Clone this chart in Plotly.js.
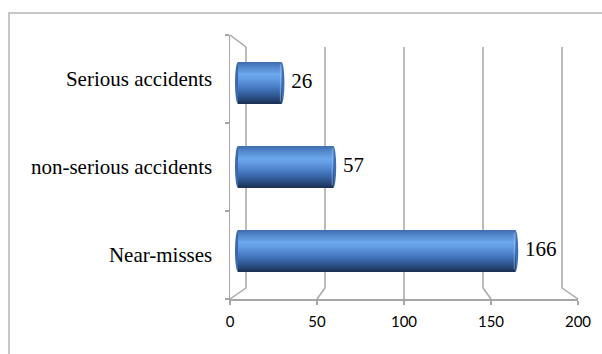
<!DOCTYPE html>
<html>
<head>
<meta charset="utf-8">
<script src="https://cdn.plot.ly/plotly-3.0.1.min.js"></script>
<style>
  html, body { margin: 0; padding: 0; background: #ffffff; }
  #chart { width: 602px; height: 354px; }
</style>
</head>
<body>
<div id="chart"></div>
<script>
// Incident counts, listed bottom to top
const categories = ['Near-misses', 'non-serious accidents', 'Serious accidents'];
const counts = [166, 57, 26];
const xTicks = [0, 50, 100, 150, 200];

const W = 602, H = 354;
const X_MIN = 0, X_MAX = 200;

// Pixel boxes of the three depth planes of the pseudo-3D plot
const FRONT = { left: 230, right: 578, top: 35, bottom: 299 };
const BACK  = { left: 246, right: 562, top: 47, bottom: 288 };
const MID   = { left: 238, right: 572, top: 41, bottom: 293 };
// Small extra room left of zero so the rounded bar ends are not clipped
const PAD = 3;
const midScale = (MID.right - MID.left) / (X_MAX - X_MIN);

const fx = p => p / W;
const fy = p => 1 - p / H;
const project = (plane, t) => plane.left + (t - X_MIN) / (X_MAX - X_MIN) * (plane.right - plane.left);

const wallColor = '#a6a6a6';

// Cylinder shading stops, top (0) to bottom (1)
const stops = [
  [0.00, [61, 108, 171]],
  [0.10, [78, 130, 198]],
  [0.30, [108, 168, 237]],
  [0.42, [96, 154, 225]],
  [0.60, [72, 124, 196]],
  [0.80, [48, 88, 146]],
  [1.00, [26, 48, 80]]
];
function shadeAt(f) {
  for (let i = 1; i < stops.length; i++) {
    if (f <= stops[i][0]) {
      const [a, ca] = stops[i - 1], [b, cb] = stops[i];
      const u = (f - a) / (b - a);
      const c = ca.map((v, j) => Math.round(v + (cb[j] - v) * u));
      return 'rgb(' + c.join(',') + ')';
    }
  }
  return 'rgb(' + stops[stops.length - 1][1].join(',') + ')';
}

const BAR_W = 0.5;
const n = 30;
const stripH = BAR_W / n;

const traces = [];
// Each strip runs from its own lower edge to the top of the bar; later strips cover the upper part
for (let k = 0; k < n; k++) {
  traces.push({
    type: 'bar', orientation: 'h',
    x: counts, y: categories,
    xaxis: 'x', yaxis: 'y',
    offset: -BAR_W / 2 + k * stripH,
    width: BAR_W - k * stripH,
    marker: { color: shadeAt(1 - (k + 0.5) / n), line: { width: 0 } },
    hoverinfo: 'skip', showlegend: false
  });
}

// Value labels at the bar ends
traces.push({
  type: 'scatter', mode: 'markers+text',
  x: counts, y: categories,
  xaxis: 'x', yaxis: 'y',
  text: counts.map(String),
  textposition: 'middle right',
  marker: { size: 14, opacity: 0 },
  textfont: { family: 'Liberation Serif, Times New Roman, serif', size: 21, color: '#000000' },
  cliponaxis: false, hoverinfo: 'skip', showlegend: false
});

// Invisible anchor so the front axes carry their category labels
traces.push({
  type: 'scatter', mode: 'markers',
  x: categories.map(() => X_MIN), y: categories,
  xaxis: 'x2', yaxis: 'y2',
  marker: { opacity: 0 }, hoverinfo: 'skip', showlegend: false
});

const shapes = [];
// Outer frame of the chart area
shapes.push({ type: 'rect', xref: 'paper', yref: 'paper', layer: 'below',
  x0: fx(9), x1: 1.05, y0: -0.05, y1: fy(13),
  line: { color: '#b4b4b4', width: 1.5 }, fillcolor: 'rgba(0,0,0,0)' });

// Back-wall gridlines and the floor edges running to the front axis
xTicks.forEach(t => {
  const xb = project(BACK, t), xf = project(FRONT, t);
  shapes.push({ type: 'line', xref: 'paper', yref: 'paper', layer: 'below',
    x0: fx(xb), x1: fx(xb), y0: fy(BACK.top), y1: fy(BACK.bottom),
    line: { color: wallColor, width: 1.5 } });
  shapes.push({ type: 'line', xref: 'paper', yref: 'paper', layer: 'below',
    x0: fx(xb), x1: fx(xf), y0: fy(BACK.bottom), y1: fy(FRONT.bottom),
    line: { color: wallColor, width: 1.5 } });
});
// Top edge of the side wall
shapes.push({ type: 'line', xref: 'paper', yref: 'paper', layer: 'below',
  x0: fx(FRONT.left), x1: fx(BACK.left), y0: fy(FRONT.top), y1: fy(BACK.top),
  line: { color: wallColor, width: 1.5 } });

// Rounded cylinder ends
const capHalf = 1.8;
categories.forEach((c, i) => {
  shapes.push({ type: 'circle', xref: 'x', yref: 'y', layer: 'below',
    x0: X_MIN - capHalf, x1: X_MIN + capHalf, y0: i - BAR_W / 2, y1: i + BAR_W / 2,
    fillcolor: '#3a6aaa', line: { width: 0 } });
  shapes.push({ type: 'circle', xref: 'x', yref: 'y', layer: 'below',
    x0: counts[i] - capHalf, x1: counts[i] + capHalf, y0: i - BAR_W / 2, y1: i + BAR_W / 2,
    fillcolor: '#3e6fb0', line: { width: 0 } });
  // faint rim where the end face meets the body
  shapes.push({ type: 'line', xref: 'x', yref: 'y', layer: 'above',
    x0: counts[i] - 0.6, x1: counts[i] - 0.6, y0: i - BAR_W / 2 + 0.03, y1: i + BAR_W / 2 - 0.03,
    line: { color: 'rgba(170,200,240,0.55)', width: 1 } });
});

const layout = {
  width: W, height: H,
  margin: { l: 0, r: 0, t: 0, b: 0, pad: 0 },
  paper_bgcolor: '#ffffff', plot_bgcolor: 'rgba(0,0,0,0)',
  barmode: 'overlay',
  showlegend: false,
  xaxis: { domain: [fx(MID.left - PAD * midScale), fx(MID.right)], range: [X_MIN - PAD, X_MAX], anchor: 'y',
           visible: false, fixedrange: true },
  yaxis: { domain: [fy(MID.bottom), fy(MID.top)], type: 'category', categoryorder: 'array',
           categoryarray: categories, range: [-0.5, 2.5], anchor: 'x', visible: false, fixedrange: true },
  xaxis2: { domain: [fx(FRONT.left), fx(FRONT.right)], range: [X_MIN, X_MAX], anchor: 'y2',
            tickmode: 'array', tickvals: xTicks, ticktext: xTicks.map(String),
            showline: true, linecolor: wallColor, linewidth: 1.5,
            ticks: 'outside', ticklen: 4, tickcolor: wallColor, tickwidth: 1.5,
            showgrid: false, zeroline: false, ticklabelstandoff: 4,
            tickfont: { family: 'Lato, Open Sans, sans-serif', size: 15, color: '#000000' } },
  yaxis2: { domain: [fy(FRONT.bottom), fy(FRONT.top)], type: 'category', categoryorder: 'array',
            categoryarray: categories, range: [-0.5, 2.5], anchor: 'x2',
            tickson: 'boundaries', ticks: 'outside', ticklen: 4, tickcolor: wallColor, tickwidth: 1.5,
            showline: true, linecolor: wallColor, linewidth: 1.5,
            showgrid: false, zeroline: false, ticklabelstandoff: 12,
            tickfont: { family: 'Liberation Serif, Times New Roman, serif', size: 21, color: '#000000' } },
  shapes: shapes
};

Plotly.newPlot('chart', traces, layout, { staticPlot: true, displayModeBar: false });
</script>
</body>
</html>
